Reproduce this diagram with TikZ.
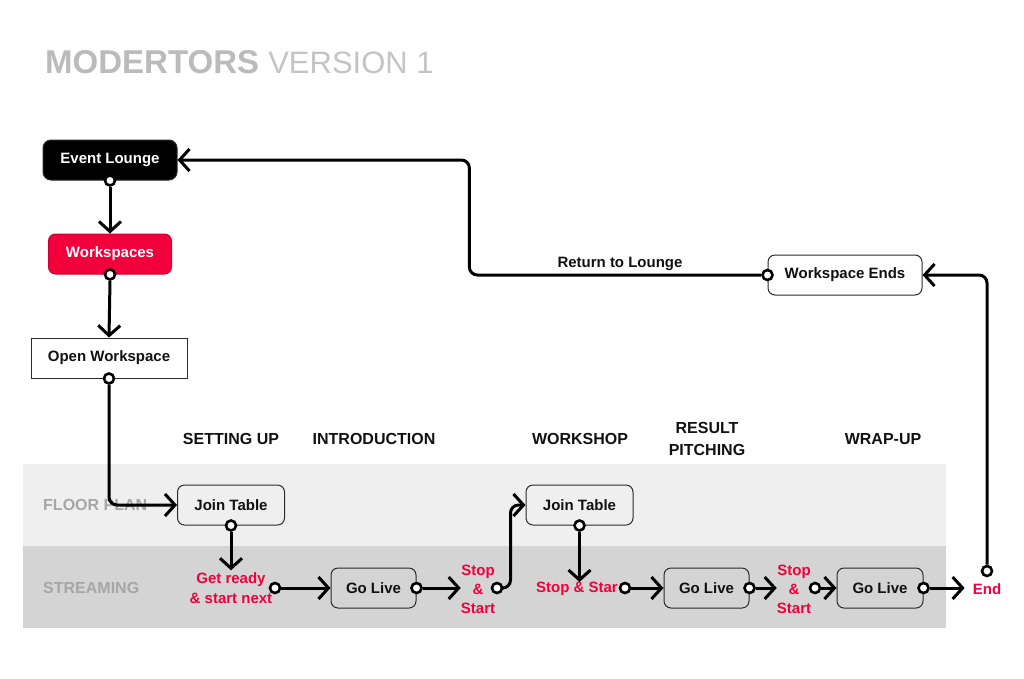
\documentclass[tikz,border=0pt]{standalone}
\usepackage{fontspec}
\setmainfont{Liberation Sans}
\usetikzlibrary{arrows.meta,calc}
\definecolor{myred}{HTML}{F2003C}
\definecolor{ink}{HTML}{111111}
\definecolor{edge}{HTML}{2B2B2B}
\definecolor{floorc}{HTML}{EFEFEF}
\definecolor{streamc}{HTML}{D4D4D4}
\definecolor{lanetext}{HTML}{A6A6A6}
\definecolor{titlegray}{HTML}{BBBBBB}
\definecolor{titlelight}{HTML}{C4C4C4}
\begin{document}
\begin{tikzpicture}[x=1pt,y=-1pt,
  every node/.style={font=\bfseries\fontsize{15}{17}\selectfont, text=ink},
  box/.style={draw=edge, line width=1pt, rounded corners=7pt, minimum height=40pt, inner sep=0pt, align=center},
  dotc/.style={circle, draw=black, fill=white, line width=2.6pt, minimum size=10pt, inner sep=0pt},
  flow/.style={line width=3pt, draw=black, -{Straight Barb[length=10pt,width=22pt,line width=3pt]}, rounded corners=8pt},
  redlbl/.style={text=myred, align=center, inner sep=0pt, font=\bfseries\fontsize{15}{20}\selectfont},
  phase/.style={font=\bfseries\fontsize{16}{22}\selectfont, align=center, inner sep=0pt},
  lanelbl/.style={text=lanetext, font=\bfseries\fontsize{16}{18}\selectfont, anchor=west, inner sep=0pt}
]
\useasboundingbox (0,0) rectangle (1024,678);
% lanes
\fill[floorc] (23,464) rectangle (946,546);
\fill[streamc] (23,546) rectangle (946,628);
\node[lanelbl] (lfloor) at (43,505) {FLOOR PLAN};
\node[lanelbl] (lstream) at (43,588) {STREAMING};

% title
\node[anchor=base west, inner sep=0pt, text=titlegray] (title) at (45,73)
  {\fontsize{33}{36}\selectfont\bfseries MODERTORS~{\mdseries\fontsize{31}{36}\selectfont\color{titlelight}VERSION 1}};

% phase headers
\node[phase] (p1) at (231,439) {SETTING UP};
\node[phase] (p2) at (374,439) {INTRODUCTION};
\node[phase] (p3) at (580,439) {WORKSHOP};
\node[phase] (p4) at (707,439) {RESULT\\PITCHING};
\node[phase] (p5) at (883,439) {WRAP-UP};

% left column
\node[box, fill=black, text=white, minimum width=134pt, rounded corners=8pt] (el) at (110,160) {Event Lounge};
\node[box, fill=myred, draw=myred!85!black, text=white, minimum width=123pt] (ws) at (110,254) {Workspaces};
\node[box, fill=white, rounded corners=0pt, minimum width=156pt] (ow) at (109,358) {Open Workspace};
\node[dotc] (eld) at (el.south) {};
\node[dotc] (wsd) at (ws.south) {};
\node[dotc] (owd) at (ow.south) {};

% workspace ends
\node[box, fill=white, minimum width=154pt] (we) at (845,275) {Workspace Ends};
\node[dotc] (wed) at (we.west) {};
\node (rtl) at (620,264) {Return to Lounge};

% floor plan / streaming nodes
\node[box, fill=floorc, minimum width=107pt] (jt1) at (231,505) {Join Table};
\node[dotc] (jt1d) at (jt1.south) {};
\node[redlbl] (gr) at (231,588) {Get ready\\\& start next};
\node[dotc] (grd) at (275,588) {};
\node[box, fill=streamc, minimum width=85pt] (gl1) at (373.5,588) {Go Live};
\node[dotc] (gl1d) at (gl1.east) {};
\node[redlbl, font=\bfseries\fontsize{15}{19}\selectfont] (ss1) at (478,589) {Stop\\\&\\Start};
\node[dotc] (ss1d) at (497,588) {};

\node[box, fill=floorc, minimum width=107pt] (jt2) at (579.5,505) {Join Table};
\node[dotc] (jt2d) at (jt2.south) {};
\node[redlbl] (ss3) at (577,589) {Stop \& Star};
\node[dotc] (ss3d) at (625,588) {};
\node[box, fill=streamc, minimum width=85pt] (gl2) at (706.5,588) {Go Live};
\node[dotc] (gl2d) at (gl2.east) {};
\node[redlbl, font=\bfseries\fontsize{15}{19}\selectfont] (ss2) at (794,589) {Stop\\\&\\Start};
\node[dotc] (ss2d) at (815,588) {};
\node[box, fill=streamc, minimum width=86pt] (gl3) at (880,588) {Go Live};
\node[dotc] (gl3d) at (gl3.east) {};
\node[redlbl, inner xsep=8pt] (endn) at (987,589) {End};
\node[dotc] (endd) at (987,571) {};

% connectors
\draw[flow] (eld.south) -- (ws.north);
\draw[flow] (wsd.south) -- (ow.north);
\draw[flow] (owd.south) |- (jt1.west);
\draw[flow] (jt1d.south) -- ($(gr.north)+(0,-2)$);
\draw[flow] (grd.east) -- (gl1.west);
\draw[flow] (gl1d.east) -- (gl1d.east -| ss1.west);
\draw[flow] (ss1d.east) -| ($(jt2.west)+(-15,0)$) -- (jt2.west);
\draw[flow] (jt2d.south) -- (jt2d.south |- ss3.north);
\draw[flow] (ss3d.east) -- (gl2.west);
\draw[flow] (gl2d.east) -- (gl2d.east -| ss2.west);
\draw[flow] (ss2d.east) -- (gl3.west);
\draw[flow] (gl3d.east) -- (gl3d.east -| endn.west);
\draw[flow] (endd.north) |- (we.east);
\coordinate (mid) at ($(el.east)!0.5!(wed.west)$);
\draw[flow] (wed.west) -| (mid) |- (el.east);
\end{tikzpicture}
\end{document}
